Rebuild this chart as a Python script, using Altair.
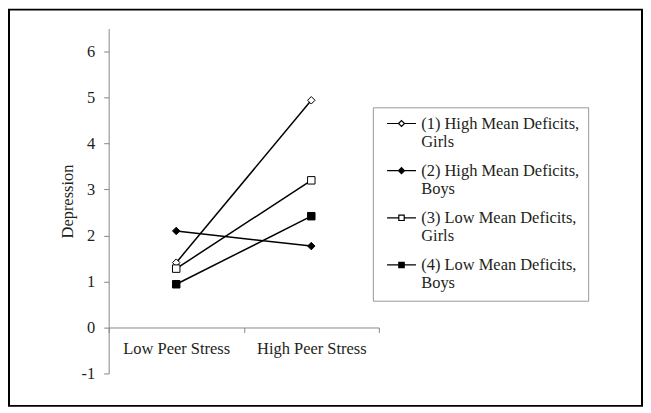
import altair as alt
import pandas as pd

series = [
    "(1) High Mean Deficits, Girls",
    "(2) High Mean Deficits, Boys",
    "(3) Low Mean Deficits, Girls",
    "(4) Low Mean Deficits, Boys",
]
stress = ["Low Peer Stress", "High Peer Stress"]
low_values = [1.41, 2.10, 1.28, 0.94]
high_values = [4.94, 1.77, 3.20, 2.42]

rows = []
for s, lo, hi in zip(series, low_values, high_values):
    rows.append({"series": s, "stress": stress[0], "depression": lo})
    rows.append({"series": s, "stress": stress[1], "depression": hi})
df = pd.DataFrame(rows)

FONT = "Liberation Serif"
FS = 16.5
TXT = "#231f20"
W, H = 271, 346
YMIN, YMAX = -1, 6.5
zero_offset = -(0 - YMIN) / (YMAX - YMIN) * H

x_enc = alt.X(
    "stress:N",
    sort=stress,
    scale=alt.Scale(type="band", paddingInner=0, paddingOuter=0),
    axis=alt.Axis(
        title=None, labelAngle=0, tickBand="extent", offset=zero_offset,
        tickSize=5, labelPadding=8, domainColor="#888", tickColor="#888",
        labelFont=FONT, labelFontSize=FS, labelColor=TXT,
    ),
)
y_enc = alt.Y(
    "depression:Q",
    scale=alt.Scale(domain=[YMIN, YMAX], nice=False, zero=False),
    axis=alt.Axis(
        values=[-1, 0, 1, 2, 3, 4, 5, 6], grid=False, tickSize=5, labelPadding=9,
        labelExpr="datum.value + ''",
        domainColor="#888", tickColor="#888",
        labelFont=FONT, labelFontSize=FS, labelColor=TXT,
        title="Depression", titleFont=FONT, titleFontSize=FS, titleFontWeight="normal",
        titleColor=TXT, titleX=-36.5, titleY=H / 2, titleAngle=270,
        titleAlign="center", titleBaseline="alphabetic",
    ),
)

base = alt.Chart(df)

lines = base.mark_line(color="black", strokeWidth=1.5).encode(
    x=x_enc, y=y_enc, detail="series:N"
)

points = base.mark_point(filled=True, stroke="black", strokeWidth=1, opacity=1).encode(
    x=x_enc, y=y_enc,
    shape=alt.Shape("series:N", scale=alt.Scale(domain=series,
                    range=["diamond", "diamond", "square", "square"]), legend=None),
    fill=alt.Fill("series:N", scale=alt.Scale(domain=series,
                  range=["white", "black", "white", "black"]), legend=None),
    size=alt.Size("series:N", scale=alt.Scale(domain=series, range=[56, 56, 50, 50]),
                  legend=None),
)

# legend glyph: short line with the marker in its middle (units of 6px)
ln_l = "M-0.333,0H1.583M2.583,0H4.5"
dia = "M1.583,0L2.083,-0.5L2.583,0L2.083,0.5Z"
sq = "M1.633,-0.45H2.533V0.45H1.633Z"
legend_paths = [ln_l + dia, ln_l + dia, ln_l + sq, ln_l + sq]

legend_def = alt.Legend(
    title=None, orient="none", legendX=265, legendY=79,
    symbolSize=144, symbolStrokeWidth=1.2, symbolStrokeColor="black",
    symbolOpacity=1, labelOffset=24, labelLimit=400,
    labelFont=FONT, labelFontSize=FS, labelColor=TXT,
    labelExpr="[split(datum.label, ', ')[0] + ',\u00a0\u00a0\u00a0\u00a0', split(datum.label, ', ')[1]]",
    strokeColor="#999", padding=8, rowPadding=11.3,
)

legend_layer = base.mark_point(filled=True, stroke="black", opacity=0).encode(
    x=x_enc, y=y_enc,
    shape=alt.Shape("series:N", scale=alt.Scale(domain=series, range=legend_paths),
                    legend=legend_def),
    fill=alt.Fill("series:N", scale=alt.Scale(domain=series,
                  range=["white", "black", "white", "black"]), legend=legend_def),
    stroke=alt.Stroke("series:N", scale=alt.Scale(domain=series,
                      range=["black", "black", "black", "black"]), legend=legend_def),
)

frame = alt.Chart(alt.Data(values=[{}])).mark_rect(
    filled=False, stroke="black", strokeWidth=2
).encode(
    x=alt.value(-100), x2=alt.value(535), y=alt.value(-19), y2=alt.value(378.5)
)

chart = (
    alt.layer(frame, lines, points, legend_layer)
    .resolve_scale(shape="independent", fill="independent", size="independent",
                   stroke="independent")
    .properties(
        width=W, height=H,
        autosize=alt.AutoSizeParams(type="none"),
        padding={"left": 101, "top": 20, "right": 265, "bottom": 34},
        background="white",
    )
    .configure_view(stroke=None)
)

chart.save("out.html", embed_options={"renderer": "svg", "actions": False})
